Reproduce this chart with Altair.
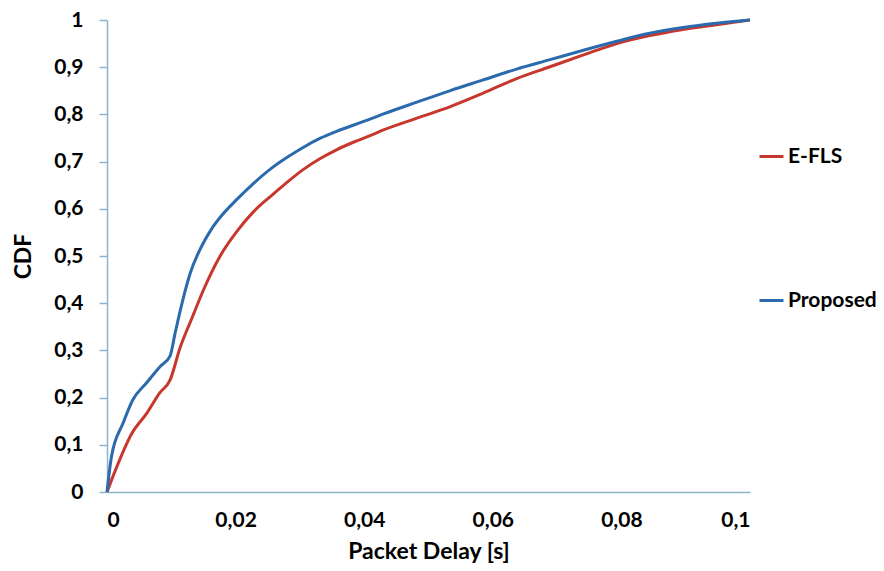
import altair as alt
import pandas as pd

# Proposed (blue)
prop_x = [0, 0.0007, 0.0025, 0.004, 0.0062, 0.0082, 0.0098, 0.0106, 0.0114, 0.0129, 0.015,
          0.0162, 0.0176, 0.0202, 0.0228, 0.0254, 0.0279, 0.0305, 0.0331, 0.0357, 0.0383, 0.0409,
          0.043, 0.0482, 0.0533, 0.0585, 0.0637, 0.0689, 0.0741, 0.0793, 0.0844,
          0.0896, 0.0948, 0.1]
prop_y = [0, 0.075, 0.146, 0.195, 0.232, 0.265, 0.288, 0.337, 0.385, 0.462, 0.528,
          0.556, 0.582, 0.620, 0.654, 0.684, 0.708, 0.730, 0.749, 0.764, 0.777, 0.790,
          0.801, 0.826, 0.850, 0.873, 0.896, 0.916, 0.936, 0.955, 0.972,
          0.984, 0.993, 1.0]

# E-FLS (red)
efls_x = [0, 0.0009, 0.0039, 0.0062, 0.0082, 0.0098, 0.0114, 0.0132, 0.015, 0.0176,
          0.0202, 0.0228, 0.0254, 0.0279, 0.0305, 0.0331, 0.0357, 0.0383, 0.0409, 0.043,
          0.0482, 0.0533, 0.0585, 0.0637, 0.0689, 0.0741, 0.0793, 0.0844, 0.0896, 0.0948, 0.1]
efls_y = [0, 0.032, 0.125, 0.167, 0.21, 0.237, 0.307, 0.368, 0.428, 0.500,
          0.552, 0.594, 0.626, 0.655, 0.683, 0.706, 0.725, 0.741, 0.755, 0.767,
          0.792, 0.816, 0.845, 0.876, 0.901, 0.926, 0.950, 0.967, 0.980, 0.990, 1.0]

series = ["E-FLS", "Proposed"]
colors = ["#c8372d", "#2a6aad"]
x_ticks = [0, 0.02, 0.04, 0.06, 0.08, 0.1]
y_ticks = [0, 0.1, 0.2, 0.3, 0.4, 0.5, 0.6, 0.7, 0.8, 0.9, 1]

df = pd.concat([
    pd.DataFrame({"x": efls_x, "y": efls_y, "s": "E-FLS", "o": range(len(efls_x))}),
    pd.DataFrame({"x": prop_x, "y": prop_y, "s": "Proposed", "o": range(len(prop_x))}),
])

FONT = "Lato"
AX = "#8db3c7"

chart = alt.Chart(df).mark_line(strokeWidth=3, interpolate="monotone").encode(
    x=alt.X("x:Q", scale=alt.Scale(domain=[0, 0.1], nice=False),
            axis=alt.Axis(title="Packet Delay [s]", values=x_ticks, grid=False, ticks=False,
                          labelExpr="replace(toString(datum.value), '.', ',')",
                          labelPadding=17, titlePadding=10)),
    y=alt.Y("y:Q", scale=alt.Scale(domain=[0, 1], nice=False),
            axis=alt.Axis(title="CDF", values=y_ticks, grid=False, tickSize=8,
                          labelExpr="replace(toString(datum.value), '.', ',')",
                          labelPadding=16, titlePadding=18)),
    color=alt.Color("s:N", scale=alt.Scale(domain=series, range=colors),
                    legend=alt.Legend(title=None, orient="none", legendX=651, legendY=123,
                                      symbolType="stroke", symbolSize=576, symbolStrokeWidth=3,
                                      rowPadding=120, labelOffset=3, padding=0,
                                      labelFont=FONT, labelFontSize=21, labelFontWeight="bold",
                                      labelColor="black")),
    order="o:Q",
).properties(
    width=643, height=472,
    autosize=alt.AutoSizeParams(type="none"),
    padding={"left": 99, "top": 12, "right": 126, "bottom": 71},
).configure_view(stroke=None).configure_axis(
    domainColor=AX, tickColor=AX, domainWidth=1.5, tickWidth=1.5,
    labelFont=FONT, labelFontSize=21, labelFontWeight="bold", labelColor="black",
    titleFont=FONT, titleFontSize=23, titleFontWeight="bold", titleColor="black",
)

chart.save("out.html", embed_options={"renderer": "svg", "actions": False})
